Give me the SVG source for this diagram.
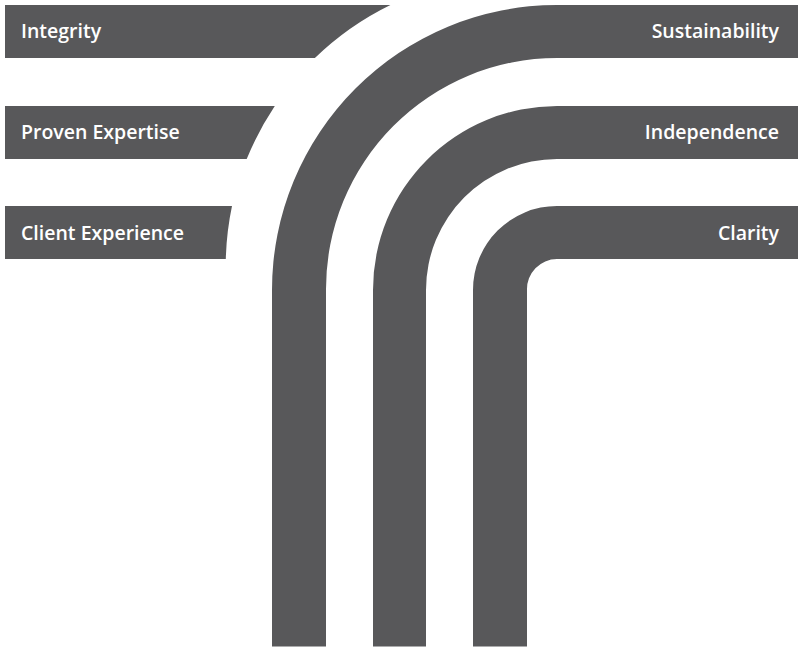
<svg xmlns="http://www.w3.org/2000/svg" width="800" height="656" viewBox="0 0 800 656">
<style>
.bar{fill:#58585a}
.lbl{fill:#ffffff;font-family:"Open Sans","Liberation Sans",sans-serif;font-size:19.5px;font-weight:600}
.r{text-anchor:end}
</style>
<rect width="800" height="656" fill="#ffffff"/>
<g id="connectors">
<path class="bar" d="M272,646.5 V290 A285,285 0 0 1 557,5 H798 V58 H557 A231,231 0 0 0 326,290 V646.5 Z"/>
<path class="bar" d="M373,646.5 V290 A184,184 0 0 1 557,106 H798 V159 H557 A131,131 0 0 0 426,290 V646.5 Z"/>
<path class="bar" d="M473,646.5 V290 A84,84 0 0 1 557,206 H798 V259 H557 A30,30 0 0 0 527,290 V646.5 Z"/>
</g>
<g id="integrity">
<path class="bar" d="M5,5 H390.4 A295,295 0 0 0 314.9,58 H5 Z"/>
<text class="lbl" x="21" y="38">Integrity</text>
</g>
<g id="proven-expertise">
<path class="bar" d="M5,106 H274.8 A295,295 0 0 0 246.7,159 H5 Z"/>
<text class="lbl" x="21" y="139">Proven Expertise</text>
</g>
<g id="client-experience">
<path class="bar" d="M5,206 H232 A295,295 0 0 0 225.8,259 H5 Z"/>
<text class="lbl" x="21" y="240">Client Experience</text>
</g>
<g id="sustainability">
<text class="lbl r" x="779" y="38">Sustainability</text>
</g>
<g id="independence">
<text class="lbl r" x="779" y="139">Independence</text>
</g>
<g id="clarity">
<text class="lbl r" x="779" y="240">Clarity</text>
</g>
</svg>
